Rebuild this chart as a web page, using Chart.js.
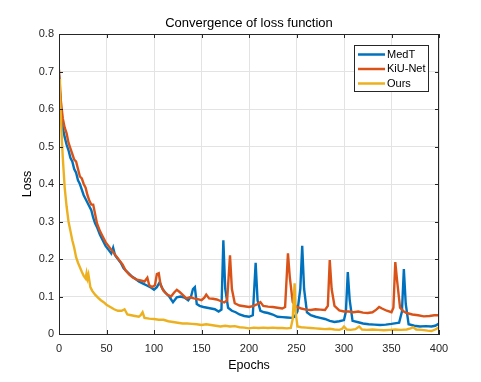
<!DOCTYPE html>
<html>
<head>
<meta charset="utf-8">
<script src="https://cdn.jsdelivr.net/npm/chart.js@4"></script>
<style>
  html, body { margin: 0; padding: 0; background: #fff; }
  canvas { display: block; }
</style>
</head>
<body>
<canvas id="lossChart" width="481" height="382"></canvas>
<script>
// Loss curves (epoch, loss)
const medtEpochs = [0,2,4,6,8,10,12,14,16,18,20,22,24,26,28,30,32,34,36,38,40,43,46,49,52,55,57,59,62,65,68,72,76,80,84,88,92,96,100,103,106,109,112,116,120,124,128,132,136,139,141,143,145,148,152,156,160,164,168,171,173,175,178,182,186,190,195,200,204,207,209,212,216,220,225,230,235,240,245,248,251,254,256,258,261,265,270,275,280,285,290,295,300,302,304,306,309,314,320,326,332,338,344,350,355,358,361,363,365,368,374,380,386,392,396,400];
const medtLoss = [0.69,0.60,0.55,0.525,0.505,0.49,0.47,0.46,0.44,0.43,0.41,0.40,0.385,0.37,0.36,0.35,0.34,0.33,0.31,0.295,0.285,0.265,0.25,0.235,0.225,0.215,0.23,0.21,0.20,0.19,0.175,0.165,0.155,0.148,0.14,0.135,0.13,0.125,0.118,0.125,0.138,0.12,0.11,0.10,0.085,0.098,0.10,0.097,0.09,0.10,0.12,0.125,0.08,0.075,0.072,0.07,0.068,0.066,0.06,0.065,0.25,0.12,0.07,0.062,0.058,0.052,0.048,0.046,0.05,0.19,0.09,0.062,0.058,0.056,0.052,0.046,0.045,0.044,0.043,0.046,0.06,0.12,0.235,0.12,0.058,0.05,0.046,0.043,0.04,0.035,0.032,0.034,0.037,0.06,0.165,0.09,0.035,0.032,0.028,0.026,0.025,0.024,0.025,0.027,0.029,0.03,0.06,0.173,0.08,0.026,0.022,0.02,0.021,0.02,0.022,0.028];

const kiuEpochs = [0,2,4,6,8,10,12,14,16,18,20,22,24,26,28,30,32,34,36,38,40,43,46,49,52,55,58,61,64,67,70,74,78,82,86,90,93,95,98,101,103,105,107,110,114,118,121,124,127,130,134,138,142,146,150,153,155,158,162,166,170,174,177,180,182,185,190,195,200,205,209,212,215,220,225,230,235,238,241,243,246,250,255,260,265,270,275,280,283,285,287,290,295,300,305,310,315,320,325,330,334,337,340,345,350,352,354,356,359,363,366,372,378,384,390,395,400];
const kiuLoss = [0.705,0.62,0.575,0.55,0.535,0.51,0.495,0.48,0.465,0.46,0.44,0.42,0.415,0.40,0.39,0.37,0.355,0.345,0.345,0.32,0.295,0.275,0.26,0.245,0.235,0.225,0.215,0.205,0.195,0.185,0.17,0.158,0.15,0.145,0.143,0.14,0.15,0.13,0.125,0.13,0.16,0.162,0.13,0.115,0.105,0.1,0.11,0.118,0.112,0.105,0.095,0.098,0.095,0.093,0.09,0.097,0.105,0.095,0.094,0.092,0.088,0.084,0.09,0.21,0.12,0.082,0.076,0.074,0.072,0.075,0.08,0.085,0.075,0.073,0.072,0.07,0.068,0.072,0.215,0.15,0.085,0.072,0.068,0.065,0.064,0.066,0.065,0.064,0.075,0.197,0.12,0.075,0.063,0.06,0.06,0.058,0.06,0.057,0.056,0.058,0.065,0.072,0.068,0.062,0.058,0.07,0.192,0.14,0.07,0.06,0.056,0.052,0.05,0.047,0.048,0.05,0.05];

const oursEpochs = [0,1,2,3,4,5,6,8,10,12,14,16,18,20,22,24,26,28,29,30,31,33,35,38,41,44,47,50,54,58,62,66,69,72,76,80,84,86,88,90,95,100,105,110,115,120,125,130,135,140,145,150,155,160,165,170,175,180,185,190,195,200,205,210,215,220,225,230,235,240,244,246,248,249,251,255,260,265,270,275,280,285,290,295,298,300,303,307,312,316,319,324,330,336,342,348,354,360,366,370,373,376,382,388,392,396,400];
const oursLoss = [0.68,0.64,0.58,0.52,0.47,0.43,0.39,0.34,0.30,0.275,0.25,0.23,0.205,0.19,0.178,0.166,0.155,0.148,0.162,0.148,0.158,0.125,0.115,0.105,0.097,0.09,0.085,0.078,0.072,0.066,0.062,0.062,0.066,0.052,0.05,0.048,0.046,0.05,0.058,0.043,0.041,0.04,0.038,0.038,0.034,0.032,0.03,0.028,0.028,0.027,0.026,0.024,0.026,0.024,0.022,0.02,0.022,0.02,0.021,0.018,0.017,0.015,0.017,0.016,0.017,0.016,0.017,0.016,0.016,0.015,0.016,0.04,0.135,0.06,0.02,0.018,0.017,0.016,0.015,0.014,0.013,0.014,0.012,0.011,0.014,0.02,0.012,0.011,0.013,0.02,0.012,0.011,0.012,0.011,0.01,0.011,0.012,0.011,0.012,0.015,0.018,0.012,0.011,0.009,0.008,0.012,0.018];

const seriesNames = ['MedT', 'KiU-Net', 'Ours'];
const seriesColors = ['#0072BD', '#D95319', '#EDB120'];
const xTicks = [0, 50, 100, 150, 200, 250, 300, 350, 400];
const yTicks = [0, 0.1, 0.2, 0.3, 0.4, 0.5, 0.6, 0.7, 0.8];

const FONT = "'Liberation Sans', Arial, sans-serif";
const AXIS_COLOR = '#262626';

function toPoints(xs, ys) {
  return xs.map((x, i) => ({ x: x, y: ys[i] }));
}

// MATLAB-style extras: title, box, inward ticks, legend inside the axes
const matlabLook = {
  id: 'matlabLook',
  afterDraw(chart) {
    const ctx = chart.ctx;
    const a = chart.chartArea;
    const xs = chart.scales.x, ys = chart.scales.y;
    ctx.save();

    // box
    ctx.strokeStyle = AXIS_COLOR;
    ctx.lineWidth = 1;
    ctx.strokeRect(a.left + 0.5, a.top + 0.5, a.right - a.left - 1, a.bottom - a.top);

    // inward ticks on all four sides
    ctx.beginPath();
    xTicks.forEach(v => {
      const px = Math.round(xs.getPixelForValue(v)) + 0.5;
      ctx.moveTo(px, a.bottom); ctx.lineTo(px, a.bottom - 4);
      ctx.moveTo(px, a.top); ctx.lineTo(px, a.top + 4);
    });
    yTicks.forEach(v => {
      const py = Math.round(ys.getPixelForValue(v)) + 0.5;
      ctx.moveTo(a.left, py); ctx.lineTo(a.left + 4, py);
      ctx.moveTo(a.right, py); ctx.lineTo(a.right - 4, py);
    });
    ctx.stroke();

    // title
    ctx.fillStyle = '#000';
    ctx.font = '13px ' + FONT;
    ctx.textAlign = 'center';
    ctx.textBaseline = 'middle';
    ctx.fillText('Convergence of loss function', (a.left + a.right) / 2, 23);

    // legend
    const lx = 354, ly = 45, lw = 74, lh = 46;
    ctx.fillStyle = '#fff';
    ctx.fillRect(lx, ly, lw, lh);
    ctx.strokeStyle = AXIS_COLOR;
    ctx.strokeRect(lx + 0.5, ly + 0.5, lw, lh);
    ctx.font = '11px ' + FONT;
    ctx.textAlign = 'left';
    chart.data.datasets.forEach((ds, i) => {
      const y = 54.5 + i * 14.5;
      ctx.strokeStyle = ds.borderColor;
      ctx.lineWidth = 2.5;
      ctx.beginPath();
      ctx.moveTo(358, y); ctx.lineTo(385, y);
      ctx.stroke();
      ctx.fillStyle = '#000';
      ctx.fillText(ds.label, 387, y);
    });
    ctx.restore();
  }
};

const datasets = [
  toPoints(medtEpochs, medtLoss),
  toPoints(kiuEpochs, kiuLoss),
  toPoints(oursEpochs, oursLoss)
].map((pts, i) => ({
  label: seriesNames[i],
  data: pts,
  borderColor: seriesColors[i],
  backgroundColor: seriesColors[i],
  borderWidth: 2.4,
  pointRadius: 0,
  tension: 0,
  fill: false,
  order: 2 - i // later series on top, like MATLAB
}));

const ctx = document.getElementById('lossChart').getContext('2d');
new Chart(ctx, {
  type: 'line',
  data: { datasets: datasets },
  options: {
    responsive: false,
    animation: false,
    devicePixelRatio: 1,
    layout: { padding: { left: 0, top: 34, right: 42, bottom: 0 } },
    plugins: {
      legend: { display: false },
      title: { display: false },
      tooltip: { enabled: false }
    },
    scales: {
      x: {
        type: 'linear',
        min: 0,
        max: 400,
        afterFit: s => { s.height = 48; },
        afterBuildTicks: s => { s.ticks = xTicks.map(v => ({ value: v })); },
        grid: { color: '#e3e3e3', drawTicks: false },
        border: { display: true, color: AXIS_COLOR },
        ticks: { color: AXIS_COLOR, padding: 8, maxRotation: 0, font: { family: FONT, size: 11 } },
        title: {
          display: true, text: 'Epochs', color: '#000',
          font: { family: FONT, size: 12.5 }, padding: { top: 0, bottom: 9 }
        }
      },
      y: {
        min: 0,
        max: 0.8,
        afterFit: s => { s.width = 59; },
        afterBuildTicks: s => { s.ticks = yTicks.map(v => ({ value: v })); },
        grid: { color: '#e3e3e3', drawTicks: false },
        border: { display: true, color: AXIS_COLOR },
        ticks: { color: AXIS_COLOR, padding: 5, font: { family: FONT, size: 11 } },
        title: {
          display: true, text: 'Loss', color: '#000',
          font: { family: FONT, size: 12.5 }, padding: { top: 20, bottom: 0 }
        }
      }
    }
  },
  plugins: [matlabLook]
});
</script>
</body>
</html>
